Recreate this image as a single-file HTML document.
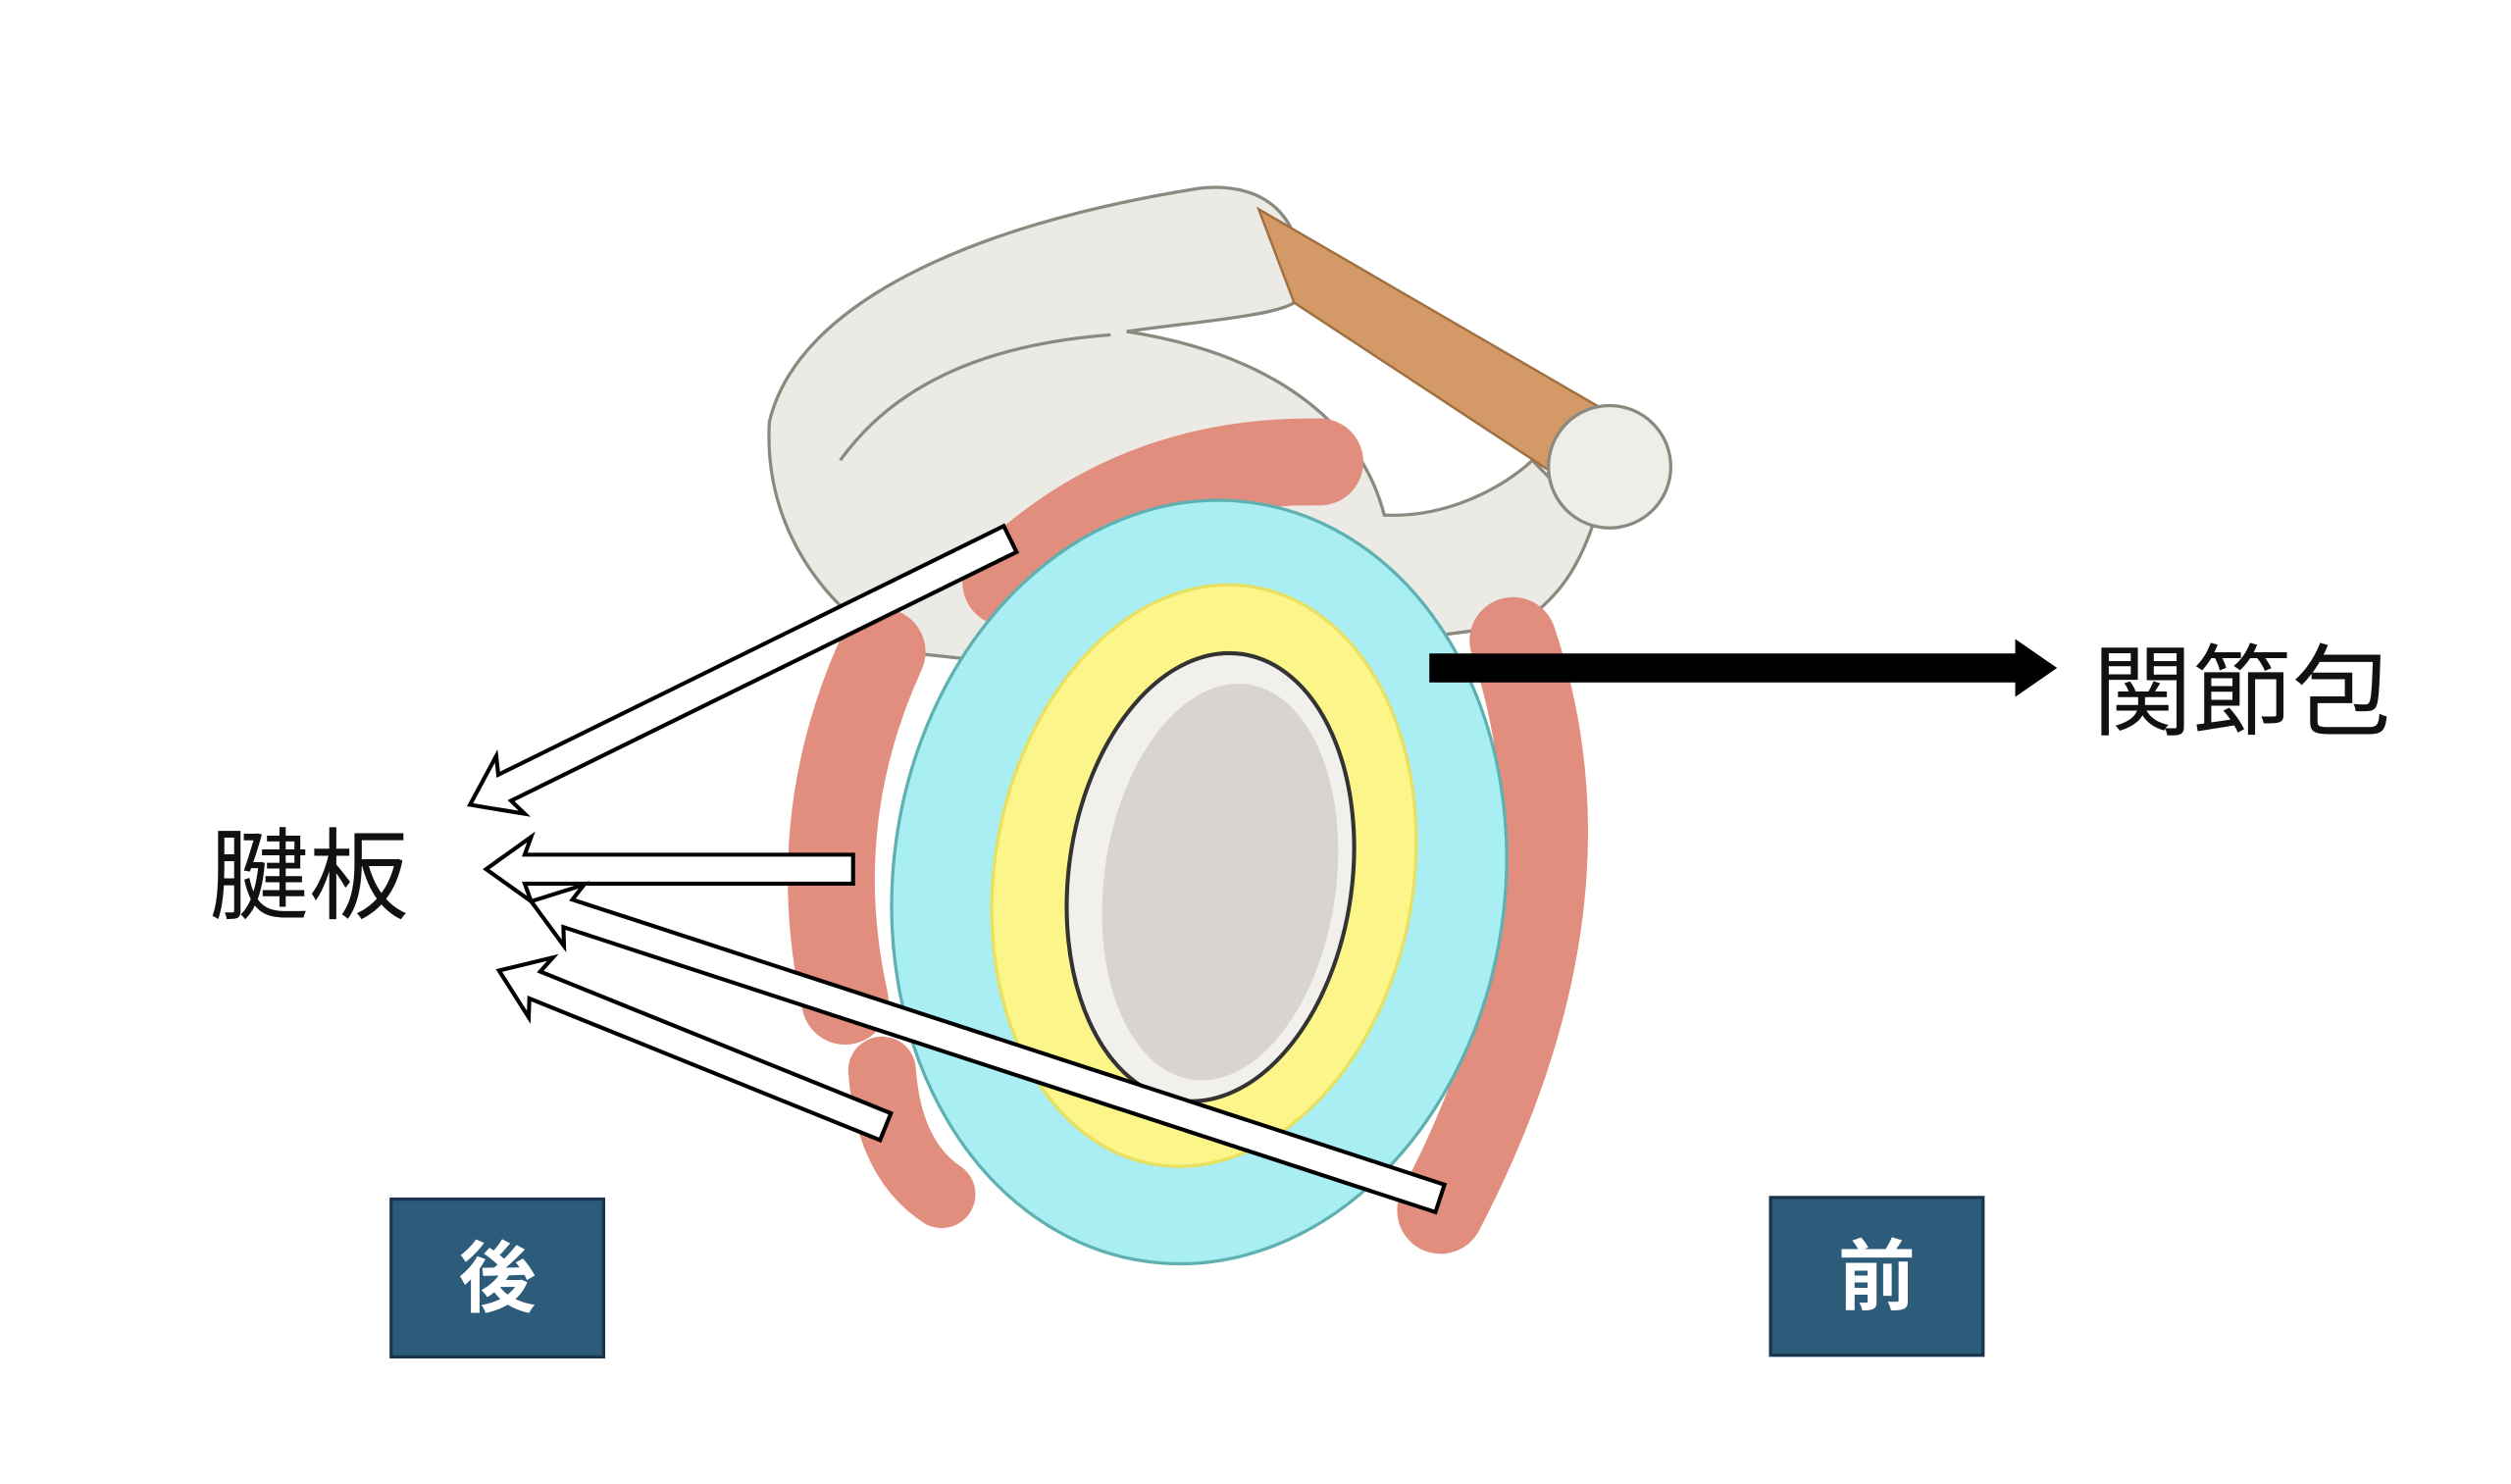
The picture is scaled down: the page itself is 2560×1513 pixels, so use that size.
<!DOCTYPE html>
<html><head><meta charset="utf-8"><style>
html,body{margin:0;padding:0;background:#fff}
svg{display:block}
</style></head><body>
<svg width="2560" height="1513" viewBox="0 0 1560 922" preserveAspectRatio="none" xmlns="http://www.w3.org/2000/svg">
<rect width="1560" height="922" fill="#fff"/>
<!-- bone -->
<path d="M478,262 C495,190 600,140 745,117 C790,112 815,140 806,186 C800,196 740,200 700,206 C790,220 845,262 860,320 C900,322 935,302 952,286 L990,325 C978,360 965,372 945,388 L700,420 L560,405 C515,380 474,330 478,262Z" fill="#eceae4" stroke="#8a8a80" stroke-width="2"/>
<path d="M522,286 C555,240 610,214 690,208" fill="none" stroke="#8a8a80" stroke-width="2"/>
<polygon points="782,130 804,188 962,292 992,252" fill="#d39a68" stroke="#a07040" stroke-width="1.5"/>
<circle cx="1000" cy="290" r="38" fill="#efede8" stroke="#8a8a80" stroke-width="2"/>
<!-- muscles -->
<g fill="none" stroke="#e28e7e" stroke-linecap="round">
<path d="M625,362 Q705,285 820,287" stroke-width="54"/>
<path d="M548,405 Q500,510 525,622" stroke-width="54"/>
<path d="M548,665 Q552,720 585,742" stroke-width="42"/>
<path d="M940,398 Q995,560 895,752" stroke-width="54"/>
</g>
<!-- capsule -->
<ellipse cx="745" cy="548" rx="190" ry="238" transform="rotate(8 745 548)" fill="#a8eef2" stroke="#5fb0b0" stroke-width="2"/>
<ellipse cx="748" cy="544" rx="130" ry="182" transform="rotate(10 748 544)" fill="#fbf58a" stroke="#e8e060" stroke-width="2"/>
<ellipse cx="752" cy="545" rx="88" ry="140" transform="rotate(8 752 545)" fill="#f2f0ec" stroke="#333" stroke-width="2.5"/>
<ellipse cx="758" cy="548" rx="72" ry="124" transform="rotate(8 758 548)" fill="#d8d4d0"/>
<!-- hollow arrows -->
<g fill="#fff" stroke="#000" stroke-width="2.5">
<polygon transform="translate(292,500) rotate(-26.2)" points="0,0 28,-20 24,-9 374,-9 374,9 24,9 28,20"/>
<polygon transform="translate(302,540) rotate(0)" points="0,0 28,-20 24,-9 228,-9 228,9 24,9 28,20"/>
<polygon transform="translate(330,560) rotate(18.1)" points="0,0 28,-20 24,-9 594,-9 594,9 24,9 28,20"/>
<polygon transform="translate(310,603) rotate(22)" points="0,0 28,-20 24,-9 259,-9 259,9 24,9 28,20"/>
</g>
<!-- black arrow -->
<rect x="888" y="406" width="368" height="18" fill="#000"/>
<polygon points="1252,397 1278,415 1252,433" fill="#000"/>
<text x="1300" y="452" font-family="'Liberation Sans','Noto Sans CJK JP',sans-serif" font-size="62" fill="#111">関節包</text>
<text x="130" y="566" font-family="'Liberation Sans','Noto Sans CJK JP',sans-serif" font-size="62" fill="#111">腱板</text>
<rect x="243" y="745" width="132" height="98" fill="#2d5b7a" stroke="#1a3550" stroke-width="2"/>
<text x="309" y="811" text-anchor="middle" font-family="'Liberation Sans','Noto Sans CJK JP',sans-serif" font-weight="bold" font-size="48" fill="#fff">後</text>
<rect x="1100" y="744" width="132" height="98" fill="#2d5b7a" stroke="#1a3550" stroke-width="2"/>
<text x="1166" y="810" text-anchor="middle" font-family="'Liberation Sans','Noto Sans CJK JP',sans-serif" font-weight="bold" font-size="48" fill="#fff">前</text>
</svg>
</body></html>
